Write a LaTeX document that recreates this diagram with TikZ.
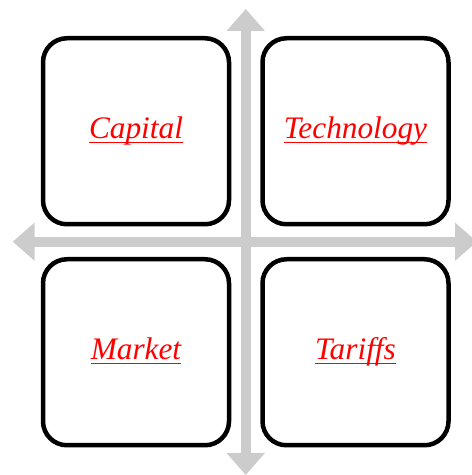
\documentclass[tikz,border=0pt]{standalone}
\usepackage{fontspec}
\setmainfont{Liberation Serif}
\usepackage{xcolor}
\usetikzlibrary{positioning, arrows.meta}

\definecolor{axisgray}{RGB}{204,204,204}
% underline at a fixed depth, through the descenders
\newcommand\redul[1]{\setbox0\hbox{#1}\rlap{\rule[-5.2pt]{\wd0}{1.8pt}}\box0}

\begin{document}
\begin{tikzpicture}[
    x=1pt, y=1pt,
    quad/.style={
        draw,
        line width=4.5pt,
        outer sep=0pt,
        rounded corners=24pt,
        fill=white,
        minimum width=186pt,
        minimum height=186pt,
        text height=20pt,
        text depth=6pt,
        text=red,
        font=\fontsize{31.3}{36}\selectfont\itshape
    },
    axis/.style={
        draw=axisgray,
        line width=10pt,
        {Triangle[length=22pt, width=37pt]}-{Triangle[length=22pt, width=37pt]}
    }
]
\useasboundingbox (0,0) rectangle (472,475);

% Axes
\coordinate (north) at (245.75,466);
\coordinate (south) at (245.75,0);
\coordinate (west) at (12.7,233.3);
\coordinate (east) at (477,233.3);
\draw[axis] (south) -- (north);
\draw[axis] (west) -- (east);

% Quadrants
\node[quad] (capital) at (136,343.75) {\redul{Capital}};
\node[quad, right=33.5pt of capital] (technology) {\redul{Technology}};
\node[quad, below=35pt of capital] (market) {\redul{Market}};
\node[quad, right=33.5pt of market] (tariffs) {\redul{Tariffs}};

\end{tikzpicture}
\end{document}
